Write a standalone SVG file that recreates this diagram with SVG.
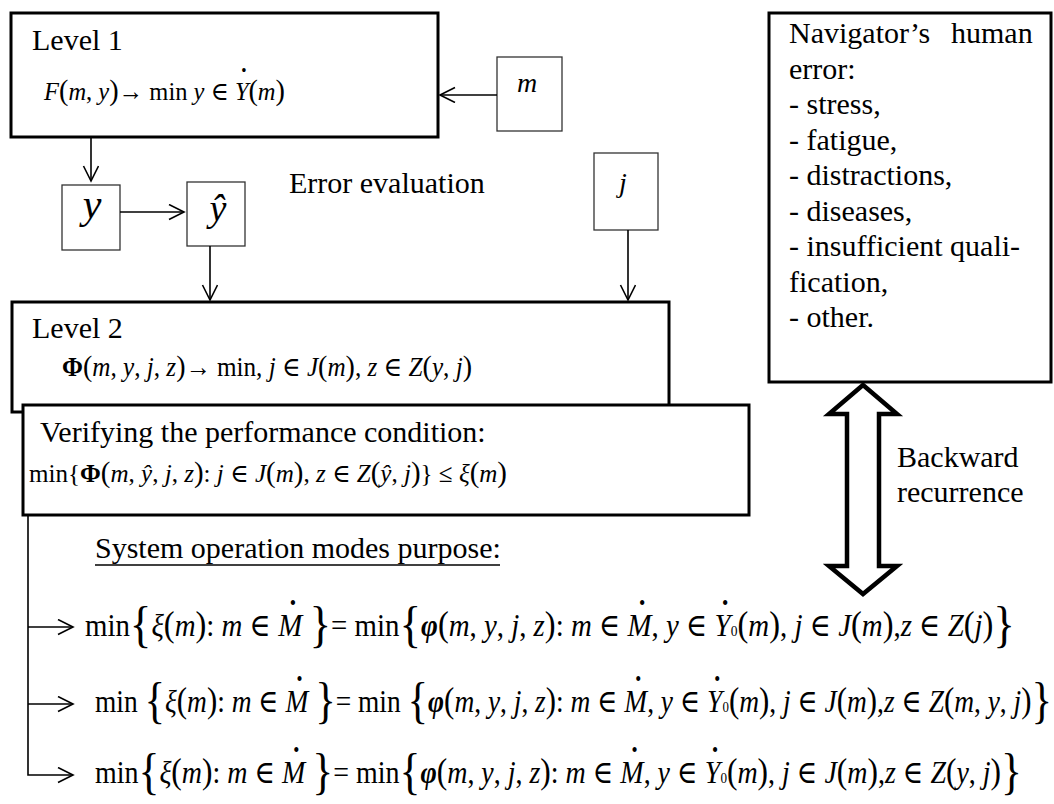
<svg xmlns="http://www.w3.org/2000/svg" width="1054" height="804" viewBox="0 0 1054 804">
<style>
.t{font-family:"Liberation Serif","Times New Roman","DejaVu Serif",serif;fill:#000}
.i{font-style:italic}
.b{font-weight:bold}
.bi{font-weight:bold;font-style:italic}
.box{fill:#fff;stroke:#000;stroke-width:3}
.sbox{fill:#fff;stroke:#333;stroke-width:1.3}
.c{fill:none;stroke:#000;stroke-width:1.6}
.br{font-size:50px}
.pp{font-size:36px}
.p2{font-size:30px}
.dt{font-size:20px}
.dt1{font-size:16px}
.sub{font-size:15px}
</style>
<defs>
<marker id="ah" markerUnits="userSpaceOnUse" viewBox="0 0 20 20" markerWidth="20" markerHeight="20" refX="16" refY="8" orient="auto">
<path d="M1,0.5 L16,8 L1,15.5" fill="none" stroke="#000" stroke-width="1.6"/>
</marker>
</defs>
<rect width="1054" height="804" fill="#fff"/>

<g id="level1">
<rect class="box" x="11" y="13" width="427" height="124"/>
<text class="t" x="32" y="50" font-size="30">Level 1</text>
<text class="t" x="44" y="100" font-size="26" textLength="241" lengthAdjust="spacingAndGlyphs" xml:space="preserve"><tspan class="i">F</tspan><tspan class="p2">(</tspan><tspan class="i">m</tspan>, <tspan class="i">y</tspan><tspan class="p2">)</tspan>→ min <tspan class="i">y</tspan> ∈ <tspan class="i">Y</tspan><tspan class="dt1" dx="-7.6" dy="-24">•</tspan><tspan class="p2" dx="1.9" dy="24">(</tspan><tspan class="i">m</tspan><tspan class="p2">)</tspan></text>
</g>

<g id="node-m">
<rect class="sbox" x="497" y="57" width="65" height="74"/>
<text class="t i" x="527" y="92" font-size="28" text-anchor="middle">m</text>
</g>

<g id="node-y">
<rect class="sbox" x="62" y="185" width="58" height="65"/>
<text class="t i" x="92" y="218" font-size="42" text-anchor="middle">y</text>
</g>

<g id="node-yhat">
<rect class="sbox" x="187" y="182" width="58" height="64"/>
<text class="t i" x="218" y="221" font-size="38" text-anchor="middle">ŷ</text>
</g>

<g id="label-error">
<text class="t" x="289" y="193" font-size="30">Error evaluation</text>
</g>

<g id="node-j">
<rect class="sbox" x="594" y="153" width="64" height="77"/>
<text class="t i" x="623" y="192" font-size="28" text-anchor="middle">j</text>
</g>

<g id="level2">
<rect class="box" x="12" y="302" width="657" height="110"/>
<text class="t" x="32" y="338" font-size="30">Level 2</text>
<text class="t" x="62" y="376" font-size="27" textLength="410" lengthAdjust="spacingAndGlyphs" xml:space="preserve"><tspan class="b">Φ</tspan><tspan class="p2">(</tspan><tspan class="i">m</tspan>, <tspan class="i">y</tspan>, <tspan class="i">j</tspan>, <tspan class="i">z</tspan><tspan class="p2">)</tspan>→ min, <tspan class="i">j</tspan> ∈ <tspan class="i">J</tspan><tspan class="p2">(</tspan><tspan class="i">m</tspan><tspan class="p2">)</tspan>, <tspan class="i">z</tspan> ∈ <tspan class="i">Z</tspan><tspan class="p2">(</tspan><tspan class="i">y</tspan>, <tspan class="i">j</tspan><tspan class="p2">)</tspan></text>
</g>

<g id="verify">
<rect class="box" x="23" y="405" width="726" height="110"/>
<text class="t" x="40" y="442" font-size="30">Verifying the performance condition:</text>
<text class="t" x="29" y="482" font-size="26" textLength="478" lengthAdjust="spacingAndGlyphs" xml:space="preserve">min{<tspan class="b">Φ</tspan><tspan class="p2">(</tspan><tspan class="i">m</tspan>, <tspan class="i">ŷ</tspan>, <tspan class="i">j</tspan>, <tspan class="i">z</tspan><tspan class="p2">)</tspan>: <tspan class="i">j</tspan> ∈ <tspan class="i">J</tspan><tspan class="p2">(</tspan><tspan class="i">m</tspan><tspan class="p2">)</tspan>, <tspan class="i">z</tspan> ∈ <tspan class="i">Z</tspan><tspan class="p2">(</tspan><tspan class="i">ŷ</tspan>, <tspan class="i">j</tspan><tspan class="p2">)</tspan>} ≤ <tspan class="i">ξ</tspan><tspan class="p2">(</tspan><tspan class="i">m</tspan><tspan class="p2">)</tspan></text>
</g>

<g id="navigator">
<rect class="box" x="769" y="13" width="282" height="369"/>
<text class="t" font-size="30"><tspan x="789" y="43">Navigator’s</tspan><tspan x="951" y="43">human</tspan><tspan x="789" y="78.5">error:</tspan><tspan x="789" y="114">- stress,</tspan><tspan x="789" y="149.5">- fatigue,</tspan><tspan x="789" y="185">- distractions,</tspan><tspan x="789" y="220.5">- diseases,</tspan><tspan x="789" y="256">- insufficient quali-</tspan><tspan x="789" y="291.5">fication,</tspan><tspan x="789" y="327">- other.</tspan></text>
</g>

<g id="backward">
<path d="M863,385 L897,414 L879,414 L879,566 L897,566 L863,594 L829,566 L847,566 L847,414 L829,414 Z" fill="#fff" stroke="#000" stroke-width="4.5" stroke-linejoin="miter"/>
<text class="t" font-size="30"><tspan x="897" y="467">Backward</tspan><tspan x="897" y="502">recurrence</tspan></text>
</g>

<g id="purpose">
<text class="t" x="95" y="558" font-size="30">System operation modes purpose:</text>
<line x1="95" y1="565" x2="500" y2="565" stroke="#000" stroke-width="1.5"/>
</g>

<g id="row1">
<text class="t" x="85" y="636" font-size="32" textLength="930" lengthAdjust="spacingAndGlyphs" xml:space="preserve">min<tspan class="br" dy="5">{</tspan><tspan class="i" dy="-5">ξ</tspan><tspan class="pp">(</tspan><tspan class="i">m</tspan><tspan class="pp">)</tspan>: <tspan class="i">m</tspan> ∈ <tspan class="i">M</tspan><tspan class="dt" dx="-13.8" dy="-26">•</tspan><tspan dx="6.8" dy="26"> </tspan><tspan class="br" dy="5">}</tspan><tspan dy="-5">= min</tspan><tspan class="br" dy="5">{</tspan><tspan class="bi" dy="-5">φ</tspan><tspan class="pp">(</tspan><tspan class="i">m</tspan>, <tspan class="i">y</tspan>, <tspan class="i">j</tspan>, <tspan class="i">z</tspan><tspan class="pp">)</tspan>: <tspan class="i">m</tspan> ∈ <tspan class="i">M</tspan><tspan class="dt" dx="-13.8" dy="-26">•</tspan><tspan dx="6.8" dy="26">, </tspan><tspan class="i">y</tspan> ∈ <tspan class="i">Y</tspan><tspan class="dt" dx="-9.4" dy="-26">•</tspan><tspan class="sub" dx="2.6" dy="26">0</tspan><tspan class="pp">(</tspan><tspan class="i">m</tspan><tspan class="pp">)</tspan>, <tspan class="i">j</tspan> ∈ <tspan class="i">J</tspan><tspan class="pp">(</tspan><tspan class="i">m</tspan><tspan class="pp">)</tspan>,<tspan class="i">z</tspan> ∈ <tspan class="i">Z</tspan><tspan class="pp">(</tspan><tspan class="i">j</tspan><tspan class="pp">)</tspan><tspan class="br" dy="5">}</tspan></text>
</g>

<g id="row2">
<text class="t" x="95" y="712" font-size="32" textLength="957" lengthAdjust="spacingAndGlyphs" xml:space="preserve">min <tspan class="br" dy="5">{</tspan><tspan class="i" dy="-5">ξ</tspan><tspan class="pp">(</tspan><tspan class="i">m</tspan><tspan class="pp">)</tspan>: <tspan class="i">m</tspan> ∈ <tspan class="i">M</tspan><tspan class="dt" dx="-13.8" dy="-26">•</tspan><tspan dx="6.8" dy="26"> </tspan><tspan class="br" dy="5">}</tspan><tspan dy="-5">= min </tspan><tspan class="br" dy="5">{</tspan><tspan class="bi" dy="-5">φ</tspan><tspan class="pp">(</tspan><tspan class="i">m</tspan>, <tspan class="i">y</tspan>, <tspan class="i">j</tspan>, <tspan class="i">z</tspan><tspan class="pp">)</tspan>: <tspan class="i">m</tspan> ∈ <tspan class="i">M</tspan><tspan class="dt" dx="-13.8" dy="-26">•</tspan><tspan dx="6.8" dy="26">, </tspan><tspan class="i">y</tspan> ∈ <tspan class="i">Y</tspan><tspan class="dt" dx="-9.4" dy="-26">•</tspan><tspan class="sub" dx="2.6" dy="26">0</tspan><tspan class="pp">(</tspan><tspan class="i">m</tspan><tspan class="pp">)</tspan>, <tspan class="i">j</tspan> ∈ <tspan class="i">J</tspan><tspan class="pp">(</tspan><tspan class="i">m</tspan><tspan class="pp">)</tspan>,<tspan class="i">z</tspan> ∈ <tspan class="i">Z</tspan><tspan class="pp">(</tspan><tspan class="i">m</tspan>, <tspan class="i">y</tspan>, <tspan class="i">j</tspan><tspan class="pp">)</tspan><tspan class="br" dy="5">}</tspan></text>
</g>

<g id="row3">
<text class="t" x="95" y="783" font-size="32" textLength="927" lengthAdjust="spacingAndGlyphs" xml:space="preserve">min<tspan class="br" dy="5">{</tspan><tspan class="i" dy="-5">ξ</tspan><tspan class="pp">(</tspan><tspan class="i">m</tspan><tspan class="pp">)</tspan>: <tspan class="i">m</tspan> ∈ <tspan class="i">M</tspan><tspan class="dt" dx="-13.8" dy="-26">•</tspan><tspan dx="6.8" dy="26"> </tspan><tspan class="br" dy="5">}</tspan><tspan dy="-5">= min</tspan><tspan class="br" dy="5">{</tspan><tspan class="bi" dy="-5">φ</tspan><tspan class="pp">(</tspan><tspan class="i">m</tspan>, <tspan class="i">y</tspan>, <tspan class="i">j</tspan>, <tspan class="i">z</tspan><tspan class="pp">)</tspan>: <tspan class="i">m</tspan> ∈ <tspan class="i">M</tspan><tspan class="dt" dx="-13.8" dy="-26">•</tspan><tspan dx="6.8" dy="26">, </tspan><tspan class="i">y</tspan> ∈ <tspan class="i">Y</tspan><tspan class="dt" dx="-9.4" dy="-26">•</tspan><tspan class="sub" dx="2.6" dy="26">0</tspan><tspan class="pp">(</tspan><tspan class="i">m</tspan><tspan class="pp">)</tspan>, <tspan class="i">j</tspan> ∈ <tspan class="i">J</tspan><tspan class="pp">(</tspan><tspan class="i">m</tspan><tspan class="pp">)</tspan>,<tspan class="i">z</tspan> ∈ <tspan class="i">Z</tspan><tspan class="pp">(</tspan><tspan class="i">y</tspan>, <tspan class="i">j</tspan><tspan class="pp">)</tspan><tspan class="br" dy="5">}</tspan></text>
</g>

<g id="connectors">
<line class="c" x1="497" y1="95" x2="440" y2="95" marker-end="url(#ah)"/>
<line class="c" x1="91" y1="138" x2="91" y2="181" marker-end="url(#ah)"/>
<line class="c" x1="120" y1="212" x2="184" y2="212" marker-end="url(#ah)"/>
<line class="c" x1="210" y1="246" x2="210" y2="300" marker-end="url(#ah)"/>
<line class="c" x1="628" y1="230" x2="628" y2="300" marker-end="url(#ah)"/>
<path class="c" d="M28,516 V775 H73" marker-end="url(#ah)"/>
<line class="c" x1="28" y1="627" x2="73" y2="627" marker-end="url(#ah)"/>
<line class="c" x1="28" y1="704" x2="73" y2="704" marker-end="url(#ah)"/>
</g>
</svg>
